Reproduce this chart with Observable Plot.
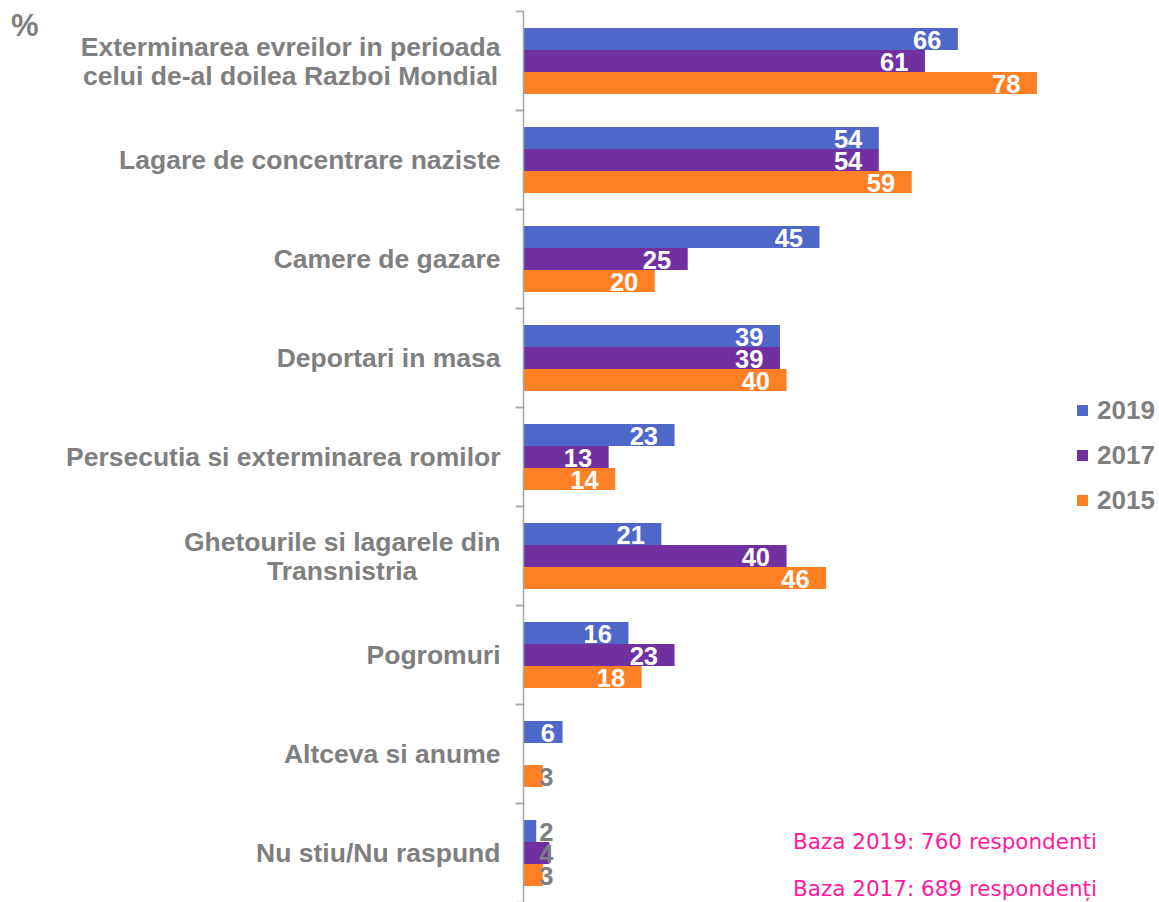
<!DOCTYPE html>
<html>
<head>
<meta charset="utf-8">
<script src="https://cdn.jsdelivr.net/npm/d3@7"></script>
<script src="https://cdn.jsdelivr.net/npm/@observablehq/plot@0.6"></script>
<style>
  html, body { margin: 0; padding: 0; background: #fff; }
  #wrap { position: relative; width: 1159px; height: 902px; overflow: hidden; font-family: "Liberation Sans", Arial, sans-serif; }
  #pct { position: absolute; left: 11px; top: 8px; font-size: 31px; font-weight: bold; color: #7f7f7f; }
  #legend { position: absolute; left: 1077px; top: 388px; }
  .lg { display: flex; align-items: center; height: 45px; font-size: 26px; font-weight: bold; color: #7f7f7f; }
  .sw { width: 11px; height: 11px; margin-right: 9px; }
  .note { position: absolute; left: 793px; font-family: "DejaVu Sans", Verdana, sans-serif; font-size: 21.5px; color: #ff1a9c; white-space: nowrap; }
</style>
</head>
<body>
<div id="wrap">
  <div id="chart"></div>
  <div id="pct">%</div>
  <div id="legend"></div>
  <div class="note" id="n1" style="top:829px"></div>
  <div class="note" id="n2" style="top:876px"></div>
</div>
<script>
const categories = [
  "Exterminarea evreilor in perioada celui de-al doilea Razboi Mondial",
  "Lagare de concentrare naziste",
  "Camere de gazare",
  "Deportari in masa",
  "Persecutia si exterminarea romilor",
  "Ghetourile si lagarele din Transnistria",
  "Pogromuri",
  "Altceva si anume",
  "Nu stiu/Nu raspund"
];
const categoryLabels = [
  "Exterminarea evreilor in perioada\ncelui de-al doilea Razboi Mondial",
  "Lagare de concentrare naziste",
  "Camere de gazare",
  "Deportari in masa",
  "Persecutia si exterminarea romilor",
  "Ghetourile si lagarele din\nTransnistria",
  "Pogromuri",
  "Altceva si anume",
  "Nu stiu/Nu raspund"
];
const years = ["2019", "2017", "2015"];
const values2019 = [66, 54, 45, 39, 23, 21, 16, 6, 2];
const values2017 = [61, 54, 25, 39, 13, 40, 23, null, 4];
const values2015 = [78, 59, 20, 40, 14, 46, 18, 3, 3];
const colors = ["#4e67c8", "#7030a0", "#fe8024"];
const notes = ["Baza 2019: 760 respondenti", "Baza 2017: 689 respondenți"];

const series = [values2019, values2017, values2015];
const data = [];
categories.forEach((c, i) => {
  years.forEach((y, j) => {
    const v = series[j][i];
    if (v != null) data.push({category: c, year: y, value: v});
  });
});
const labelData = categories.map((c, i) => ({category: c, label: categoryLabels[i]}));

const W = 1159, H = 902, ML = 523, MR = 43;
const plotW = W - ML - MR;

const chart = Plot.plot({
  width: W,
  height: H,
  marginLeft: ML,
  marginRight: MR,
  marginTop: 10,
  marginBottom: 0,
  x: {domain: [0, 90], axis: null},
  y: {domain: years, axis: null, paddingInner: 0, paddingOuter: 0.75},
  fy: {domain: categories, axis: null, padding: 0},
  color: {domain: years, range: colors},
  style: {fontFamily: "'Liberation Sans', Arial, sans-serif"},
  marks: [
    Plot.barX(data, {fy: "category", y: "year", x: "value", fill: "year", insetTop: 0, insetBottom: 0}),
    Plot.text(data.filter(d => d.value >= 10), {
      fy: "category", y: "year", x: "value", text: d => String(d.value),
      textAnchor: "end", dx: -17, dy: 1, fill: "white", fontSize: 25.5, fontWeight: "bold"
    }),
    Plot.text(data.filter(d => d.value >= 5 && d.value < 10), {
      fy: "category", y: "year", x: "value", text: d => String(d.value),
      textAnchor: "end", dx: -8, dy: 1, fill: "white", fontSize: 25.5, fontWeight: "bold"
    }),
    Plot.text(data.filter(d => d.value < 5), {
      fy: "category", y: "year", x: () => 0, text: d => String(d.value),
      textAnchor: "end", dx: 30, dy: 1, fill: "#7f7f7f", fontSize: 25.5, fontWeight: "bold"
    }),
    Plot.ruleX([0], {stroke: "#a6a6a6", strokeWidth: 1.5}),
    Plot.frame({anchor: "top", stroke: "#a6a6a6", strokeWidth: 1.5, insetLeft: -7, insetRight: plotW}),
    Plot.frame({anchor: "bottom", stroke: "#a6a6a6", strokeWidth: 1.5, insetLeft: -7, insetRight: plotW}),
    Plot.text(labelData, {
      fy: "category", text: "label", frameAnchor: "left", dx: -23,
      textAnchor: "end", lineHeight: 1.1, fontSize: 26.5, fontWeight: "bold", fill: "#7f7f7f",
      className: "catlabel"
    })
  ]
});
document.getElementById("chart").appendChild(chart);

// Center multi-line labels inside a right-aligned block
chart.querySelectorAll(".catlabel text").forEach(t => {
  const spans = t.querySelectorAll("tspan");
  if (spans.length > 1) {
    let maxW = 0;
    spans.forEach(s => { maxW = Math.max(maxW, s.getComputedTextLength()); });
    t.setAttribute("text-anchor", "middle");
    spans.forEach(s => s.setAttribute("x", -maxW / 2));
  }
});

const legend = document.getElementById("legend");
years.forEach((y, j) => {
  const row = document.createElement("div");
  row.className = "lg";
  row.innerHTML = `<div class="sw" style="background:${colors[j]}"></div><span>${y}</span>`;
  legend.appendChild(row);
});
document.getElementById("n1").textContent = notes[0];
document.getElementById("n2").textContent = notes[1];
</script>
</body>
</html>
